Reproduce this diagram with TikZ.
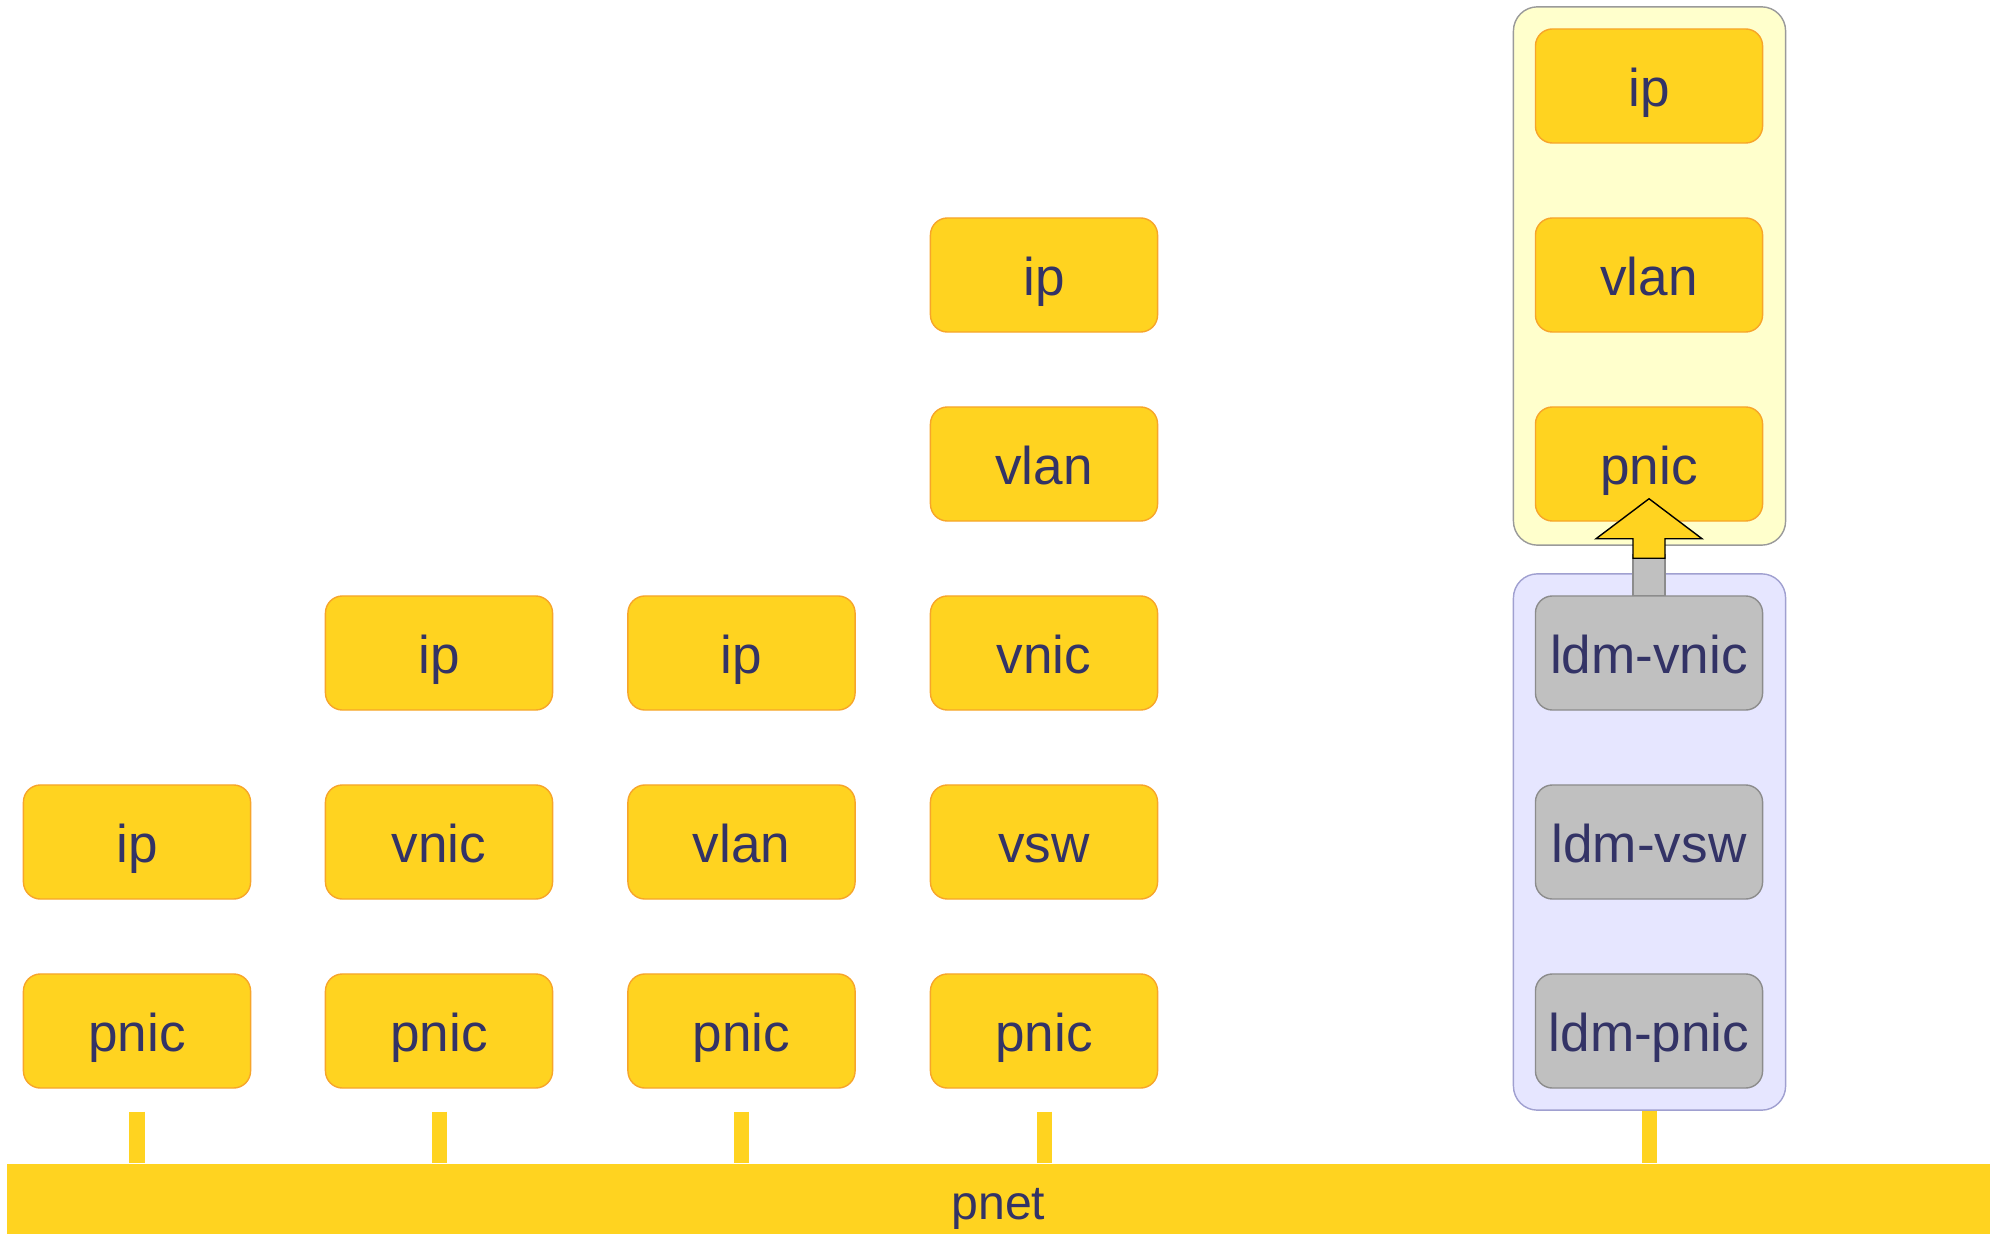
\documentclass[tikz,border=0pt]{standalone}
\usepackage{fontspec}
\setmainfont{Liberation Sans}
\usetikzlibrary{calc}
\definecolor{sunyellow}{HTML}{FFD320}
\definecolor{sunedge}{HTML}{F7A52A}
\definecolor{inkblue}{HTML}{333366}
\definecolor{paleyellow}{HTML}{FFFFCC}
\definecolor{paleedge}{HTML}{9A9A9A}
\definecolor{lavender}{HTML}{E6E6FF}
\definecolor{lavedge}{HTML}{A0A0D0}
\definecolor{boxgrey}{HTML}{C0C0C0}
\definecolor{greyedge}{HTML}{8C8C8C}
\tikzset{
  layer/.style={draw=sunedge, fill=sunyellow, line width=0.4pt,
    rounded corners=0.17cm, minimum width=2.27cm, minimum height=1.14cm,
    inner sep=0pt, text=inkblue, text height=0.55cm, text depth=0.15cm,
    font=\fontsize{15.1}{18}\selectfont},
  ldmlayer/.style={layer, draw=greyedge, fill=boxgrey},
  group/.style={rounded corners=0.24cm, line width=0.4pt, inner sep=0pt,
    minimum width=2.72cm},
  stub/.style={draw=sunyellow, line width=0.15cm},
  netbar/.style={fill=sunyellow, minimum width=19.81cm, minimum height=0.70cm,
    inner sep=0pt, text=inkblue, text height=0.55cm, text depth=0.15cm,
    font=\fontsize{13.7}{16}\selectfont}
}
\begin{document}
\begin{tikzpicture}[x=0.01cm, y=-0.01cm]
\useasboundingbox (0,0) rectangle (2001,1234);

% group frames on the right
\node[group, draw=paleedge, fill=paleyellow, minimum height=5.38cm] (zone) at (1649.5,276) {};
\node[group, draw=lavedge, fill=lavender, minimum height=5.36cm] (ldm) at (1649.5,842) {};

% column 1
\node[layer] (a1) at (137,842) {ip};
\node[layer] (a0) at (137,1031) {pnic};
% column 2
\node[layer] (b2) at (439,653) {ip};
\node[layer] (b1) at (439,842) {vnic};
\node[layer] (b0) at (439,1031) {pnic};
% column 3
\node[layer] (c2) at (741.5,653) {ip};
\node[layer] (c1) at (741.5,842) {vlan};
\node[layer] (c0) at (741.5,1031) {pnic};
% column 4
\node[layer] (d4) at (1044,275) {ip};
\node[layer] (d3) at (1044,464) {vlan};
\node[layer] (d2) at (1044,653) {vnic};
\node[layer] (d1) at (1044,842) {vsw};
\node[layer] (d0) at (1044,1031) {pnic};
% right column
\node[layer] (r5) at (1649,86) {ip};
\node[layer] (r4) at (1649,275) {vlan};
\node[layer] (r3) at (1649,464) {pnic};
\node[ldmlayer] (r2) at (1649,653) {ldm-vnic};
\node[ldmlayer] (r1) at (1649,842) {ldm-vsw};
\node[ldmlayer] (r0) at (1649,1031) {ldm-pnic};

% block arrow from ldm-vnic up to pnic
\draw[fill=boxgrey, draw=greyedge, line width=0.4pt]
  ($(r2.north)+(-16,0)$) rectangle ($(r2.north)+(16,-41)$);
\draw[fill=sunyellow, draw=black, line width=0.4pt]
  ($(r3.south)+(0,-23)$) -- ($(r3.south)+(53,17)$) -- ($(r3.south)+(16,17)$)
  -- ($(r2.north)+(16,-37)$) -- ($(r2.north)+(-16,-37)$)
  -- ($(r3.south)+(-16,17)$) -- ($(r3.south)+(-53,17)$) -- cycle;

% physical network
\node[netbar] (pnet) at (998.5,1199) {pnet};

% attachments to the network
\foreach \n in {a0,b0,c0,d0} {
  \draw[stub] ($(\n.south)+(0,23)$) -- (\n.south |- pnet.north);
}
\draw[stub] (ldm.south) -- (ldm.south |- pnet.north);
\end{tikzpicture}
\end{document}
